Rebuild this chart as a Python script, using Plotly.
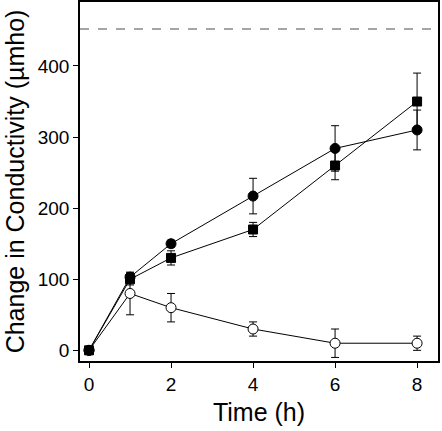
import plotly.graph_objects as go

time = [0, 1, 2, 4, 6, 8]
filled_circle = [0, 103, 150, 217, 284, 310]
filled_circle_err = [0, 6, 5, 25, 32, 28]
filled_square = [0, 100, 130, 170, 260, 350]
filled_square_err = [0, 8, 10, 10, 20, 40]
open_circle = [0, 80, 60, 30, 10, 10]
open_circle_err = [0, 30, 20, 10, 20, 10]
reference_level = 452

fig = go.Figure()

def add(y, err, symbol, fill):
    fig.add_trace(go.Scatter(
        x=time, y=y, mode="lines+markers",
        line=dict(color="black", width=1),
        marker=dict(symbol=symbol, size=10 if symbol == "circle" else 9, color=fill,
                    line=dict(color="black", width=1)),
        error_y=dict(type="data", array=err, visible=True, color="black",
                     thickness=1, width=4),
        showlegend=False,
    ))

add(open_circle, open_circle_err, "circle", "white")
add(filled_circle, filled_circle_err, "circle", "black")
add(filled_square, filled_square_err, "square", "black")

fig.add_shape(type="line", xref="paper", x0=0, x1=1, yref="y",
              y0=reference_level, y1=reference_level,
              line=dict(color="#888888", width=1.5, dash="dash"))

font = "Liberation Sans, Arial, sans-serif"
fig.update_layout(
    width=442, height=431,
    margin=dict(l=80, r=4, t=2, b=70),
    paper_bgcolor="white", plot_bgcolor="white",
    font=dict(family=font, color="black"),
    xaxis=dict(range=[-0.22, 8.51], tickvals=[0, 2, 4, 6, 8],
               ticks="outside", ticklen=5, tickcolor="black",
               showline=True, linecolor="black", linewidth=1.5, mirror=True,
               showgrid=False, zeroline=False, tickfont=dict(size=19),
               automargin=False,
               title=dict(text="Time (h)", font=dict(size=25), standoff=10)),
    yaxis=dict(range=[-15, 490], tickvals=[0, 100, 200, 300, 400],
               ticks="outside", ticklen=5, tickcolor="black",
               showline=True, linecolor="black", linewidth=1.5, mirror=True,
               showgrid=False, zeroline=False, tickfont=dict(size=19),
               automargin=False,
               title=dict(text="Change in Conductivity (µmho)", font=dict(size=25), standoff=6)),
)

fig.write_html("out.html", config={"displayModeBar": False},
               post_script="document.body.style.margin='0';")
